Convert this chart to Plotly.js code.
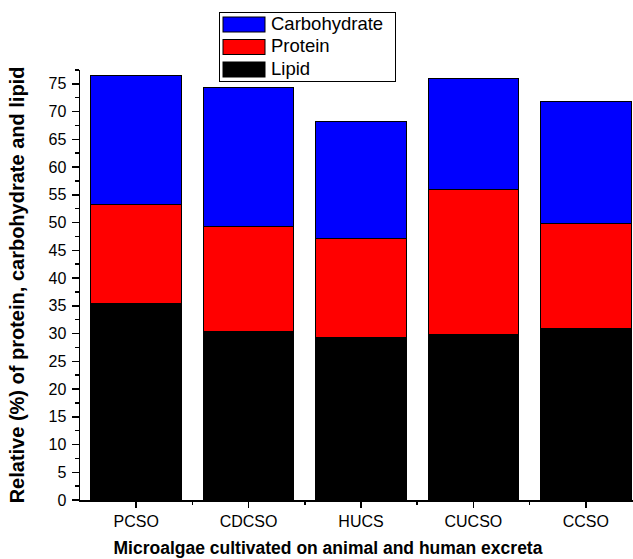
<!DOCTYPE html>
<html>
<head>
<meta charset="utf-8">
<script src="https://cdn.plot.ly/plotly-3.0.1.min.js"></script>
<style>html,body{margin:0;padding:0;background:#fff;}#chart{width:633px;height:559px;}</style>
</head>
<body>
<div id="chart"></div>
<script>
const categories = ["PCSO", "CDCSO", "HUCS", "CUCSO", "CCSO"];
const lipid = [35.4, 30.3, 29.2, 29.9, 30.9];
const protein = [17.9, 19.0, 17.9, 26.0, 18.9];
const carbohydrate = [23.2, 25.1, 21.2, 20.1, 22.1];
const yTickVals = [0, 5, 10, 15, 20, 25, 30, 35, 40, 45, 50, 55, 60, 65, 70, 75];

const xIdx = categories.map((c, i) => i);
const font = "Arial, 'Liberation Sans', sans-serif";
const colors = {Lipid: "#000000", Protein: "#FF0000", Carbohydrate: "#0000FF"};

function bar(name, vals) {
  return {
    type: "bar", name: name, x: xIdx, y: vals,
    marker: {color: colors[name], line: {color: "#000", width: 1}},
    hoverinfo: "y+name"
  };
}

const data = [
  bar("Lipid", lipid),
  bar("Protein", protein),
  bar("Carbohydrate", carbohydrate)
];

const LEG_FS = 18.5;
const layout = {
  width: 633, height: 559,
  margin: {l: 80, r: 0, t: 70, b: 59, autoexpand: false},
  paper_bgcolor: "#fff", plot_bgcolor: "#fff",
  barmode: "stack", bargap: 0.195,
  font: {family: font, color: "#000", size: 14},
  showlegend: true,
  legend: {
    x: (219 - 80) / 553, xanchor: "left", y: 1 + (70 - 12) / 430, yanchor: "top",
    bordercolor: "#000", borderwidth: 1, bgcolor: "#fff",
    font: {family: font, size: LEG_FS, color: "#000"},
    traceorder: "reversed", itemwidth: 42, tracegroupgap: 0
  },
  xaxis: {
    range: [-0.5, 4.42], tickmode: "array", tickvals: xIdx, ticktext: categories,
    showline: true, linecolor: "#000", linewidth: 1.5, zeroline: false, showgrid: false,
    ticks: "outside", ticklen: 6, tickwidth: 1.5, tickcolor: "#000",
    tickfont: {family: font, size: 16, color: "#000"},
    minor: {tickmode: "array", tickvals: [0.5, 1.5, 2.5, 3.5], ticks: "outside", ticklen: 3, tickwidth: 1.5, tickcolor: "#000", showgrid: false},
    title: {text: "<b>Microalgae cultivated on animal and human excreta</b>", font: {family: font, size: 17.5, color: "#000"}, standoff: 13}
  },
  yaxis: {
    range: [0, 77.5], tickmode: "array", tickvals: yTickVals,
    showline: true, linecolor: "#000", linewidth: 1.5, zeroline: false, showgrid: false,
    ticks: "outside", ticklen: 7, tickwidth: 1.5, tickcolor: "#000",
    ticklabelstandoff: 2,
    tickfont: {family: font, size: 16, color: "#000"},
    minor: {dtick: 2.5, ticks: "outside", ticklen: 4, tickwidth: 1.5, tickcolor: "#000", showgrid: false},
    title: {text: "<b>Relative (%) of protein, carbohydrate and lipid</b>", font: {family: font, size: 20, color: "#000"}, standoff: 18}
  }
};

function parseTranslate(t) {
  const m = /translate\(\s*([-\d.e]+)[ ,]+([-\d.e]+)\s*\)/.exec(t || "");
  return m ? [parseFloat(m[1]), parseFloat(m[2])] : [0, 0];
}

Plotly.newPlot("chart", data, layout, {displayModeBar: false, staticPlot: true}).then(function () {
  const svgNS = "http://www.w3.org/2000/svg";
  const items = Array.from(document.querySelectorAll(".legend .traces"));
  items.forEach(function (g, i) {
    const text = g.querySelector("text.legendtext");
    if (!text) return;
    const name = text.textContent.trim();
    const tr = parseTranslate(g.getAttribute("transform"));
    const ctm = g.getScreenCTM();
    const tx = parseFloat(text.getAttribute("x") || 0);
    const ty = parseFloat(text.getAttribute("y") || 0);
    const dx = 271 - (ctm.e + tx);
    const dy = (29.7 + i * 22.5) - (ctm.f + ty);
    g.setAttribute("transform", "translate(" + (tr[0] + dx) + "," + (tr[1] + dy) + ")");
    const ox = ctm.e + dx, oy = ctm.f + dy;
    g.querySelectorAll(".legendpoints").forEach(function (e) { e.style.display = "none"; });
    const r = document.createElementNS(svgNS, "rect");
    r.setAttribute("x", 223 - ox);
    r.setAttribute("y", 17 + i * 22.5 - oy);
    r.setAttribute("width", 42);
    r.setAttribute("height", 15);
    r.setAttribute("fill", colors[name] || "#000");
    r.setAttribute("stroke", "#000");
    r.setAttribute("stroke-width", 1);
    g.appendChild(r);
  });
  const leg = document.querySelector("g.legend");
  if (leg) {
    const bg = leg.querySelector("rect.bg");
    const lc = leg.getScreenCTM();
    if (bg) {
      bg.setAttribute("x", 219.5 - lc.e);
      bg.setAttribute("y", 12.5 - lc.f);
      bg.setAttribute("width", 176);
      bg.setAttribute("height", 68.5);
    }
  }
  const xt = document.querySelector("text.xtitle");
  if (xt) xt.setAttribute("x", 328);
});
</script>
</body>
</html>
